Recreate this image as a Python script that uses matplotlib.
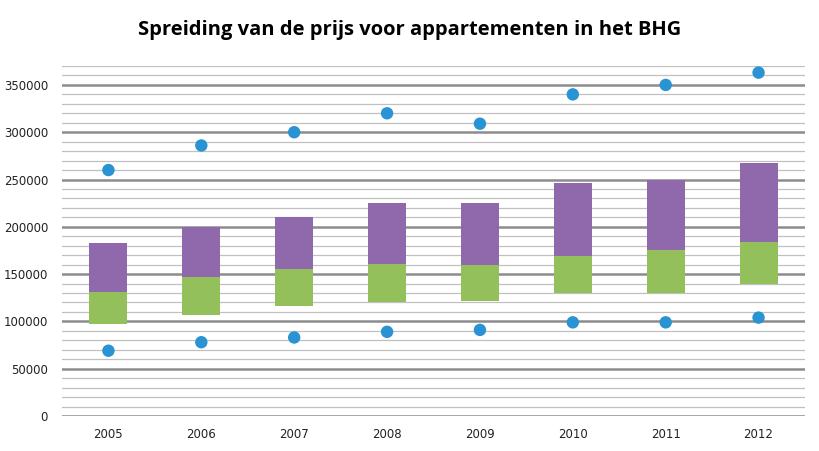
import matplotlib
matplotlib.use("Agg")
import matplotlib.pyplot as plt
import numpy as np

years = ["2005", "2006", "2007", "2008", "2009", "2010", "2011", "2012"]
p_min = [69000, 78000, 83000, 89000, 91000, 99000, 99000, 104000]
q1 = [97000, 107000, 116000, 120000, 122000, 130000, 130000, 140000]
median = [131000, 147000, 155000, 161000, 160000, 169000, 175000, 184000]
q3 = [183000, 200000, 210000, 225000, 225000, 246000, 250000, 267000]
p_max = [260000, 286000, 300000, 320000, 309000, 340000, 350000, 363000]

GREEN = "#93c05a"
PURPLE = "#8f69ac"
BLUE = "#2a93d3"

fig = plt.figure(figsize=(8.2, 4.51), dpi=100)
ax = fig.add_axes([62/820, 1-416/451, 743/820, (416-66)/451])

x = np.arange(len(years))
lower = np.array(median) - np.array(q1)
upper = np.array(q3) - np.array(median)

# gridlines
for v in range(0, 370001, 10000):
    if v % 50000 == 0:
        ax.axhline(v, color="#8c8c8c", lw=1.8, zorder=1)
    else:
        ax.axhline(v, color="#c0c0c0", lw=0.9, zorder=1)

ax.bar(x, lower, bottom=q1, width=0.41, color=GREEN, zorder=2)
ax.bar(x, upper, bottom=median, width=0.41, color=PURPLE, zorder=2)
ax.scatter(x, p_min, s=80, color=BLUE, zorder=3, edgecolors="none")
ax.scatter(x, p_max, s=80, color=BLUE, zorder=3, edgecolors="none")

ax.set_xlim(-0.5, len(years)-0.5)
ax.set_ylim(0, 370000)
ax.set_xticks(x)
ax.set_xticklabels(years)
ax.set_yticks(range(0, 350001, 50000))
ax.set_yticklabels([str(v) for v in range(0, 350001, 50000)])
ax.tick_params(length=0, labelsize=8.5, colors="#222222")
ax.tick_params(axis="y", pad=10)
ax.tick_params(axis="x", pad=9)
for s in ax.spines.values():
    s.set_visible(False)

fig.text(0.5, 1-30/451, "Spreiding van de prijs voor appartementen in het BHG",
         ha="center", va="center", fontsize=14.5, fontweight="bold",
         family="Open Sans")

fig.savefig("out.png", dpi=100)
